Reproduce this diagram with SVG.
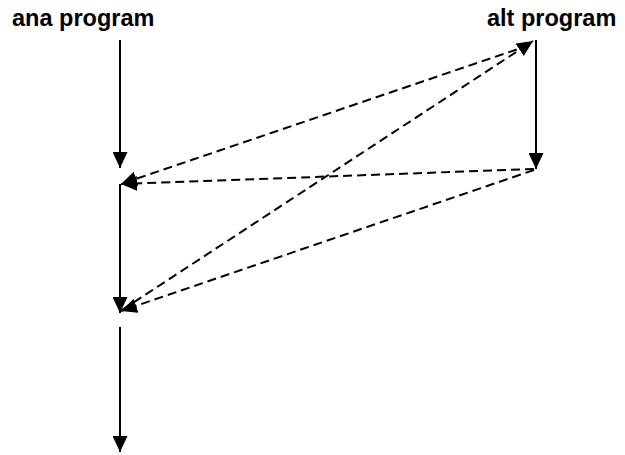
<svg xmlns="http://www.w3.org/2000/svg" width="625" height="455" viewBox="0 0 625 455">
<style>
.lbl{font-family:"Liberation Sans",Arial,sans-serif;font-weight:bold;font-size:23.5px;fill:#000}
.solid{stroke:#000;stroke-width:2;fill:none;marker-end:url(#ah)}
.dash{stroke:#000;stroke-width:2;fill:none;stroke-dasharray:9,5;marker-end:url(#ah)}
</style>
<defs>
<marker id="ah" markerUnits="userSpaceOnUse" markerWidth="17" markerHeight="15" refX="16" refY="7.5" orient="auto" viewBox="0 0 17 15">
<path d="M0,0 L16,7.5 L0,15 z" fill="#000"/>
</marker>
</defs>
<rect width="625" height="455" fill="#fff"/>
<g id="ana-program"><text class="lbl" x="12" y="26">ana program</text></g>
<g id="alt-program"><text class="lbl" x="487" y="26">alt program</text></g>
<g id="connectors">
<line class="solid" x1="120" y1="40" x2="120" y2="168"/>
<line class="solid" x1="120" y1="184" x2="120" y2="313"/>
<line class="solid" x1="120" y1="327" x2="120" y2="452"/>
<line class="solid" x1="536" y1="40" x2="536" y2="169"/>
<line class="dash" x1="122" y1="310" x2="533" y2="41"/>
<line class="dash" x1="530" y1="45" x2="121" y2="184"/>
<line class="dash" x1="534" y1="169" x2="121" y2="184"/>
<line class="dash" x1="534" y1="170" x2="121" y2="311"/>
</g>
</svg>
